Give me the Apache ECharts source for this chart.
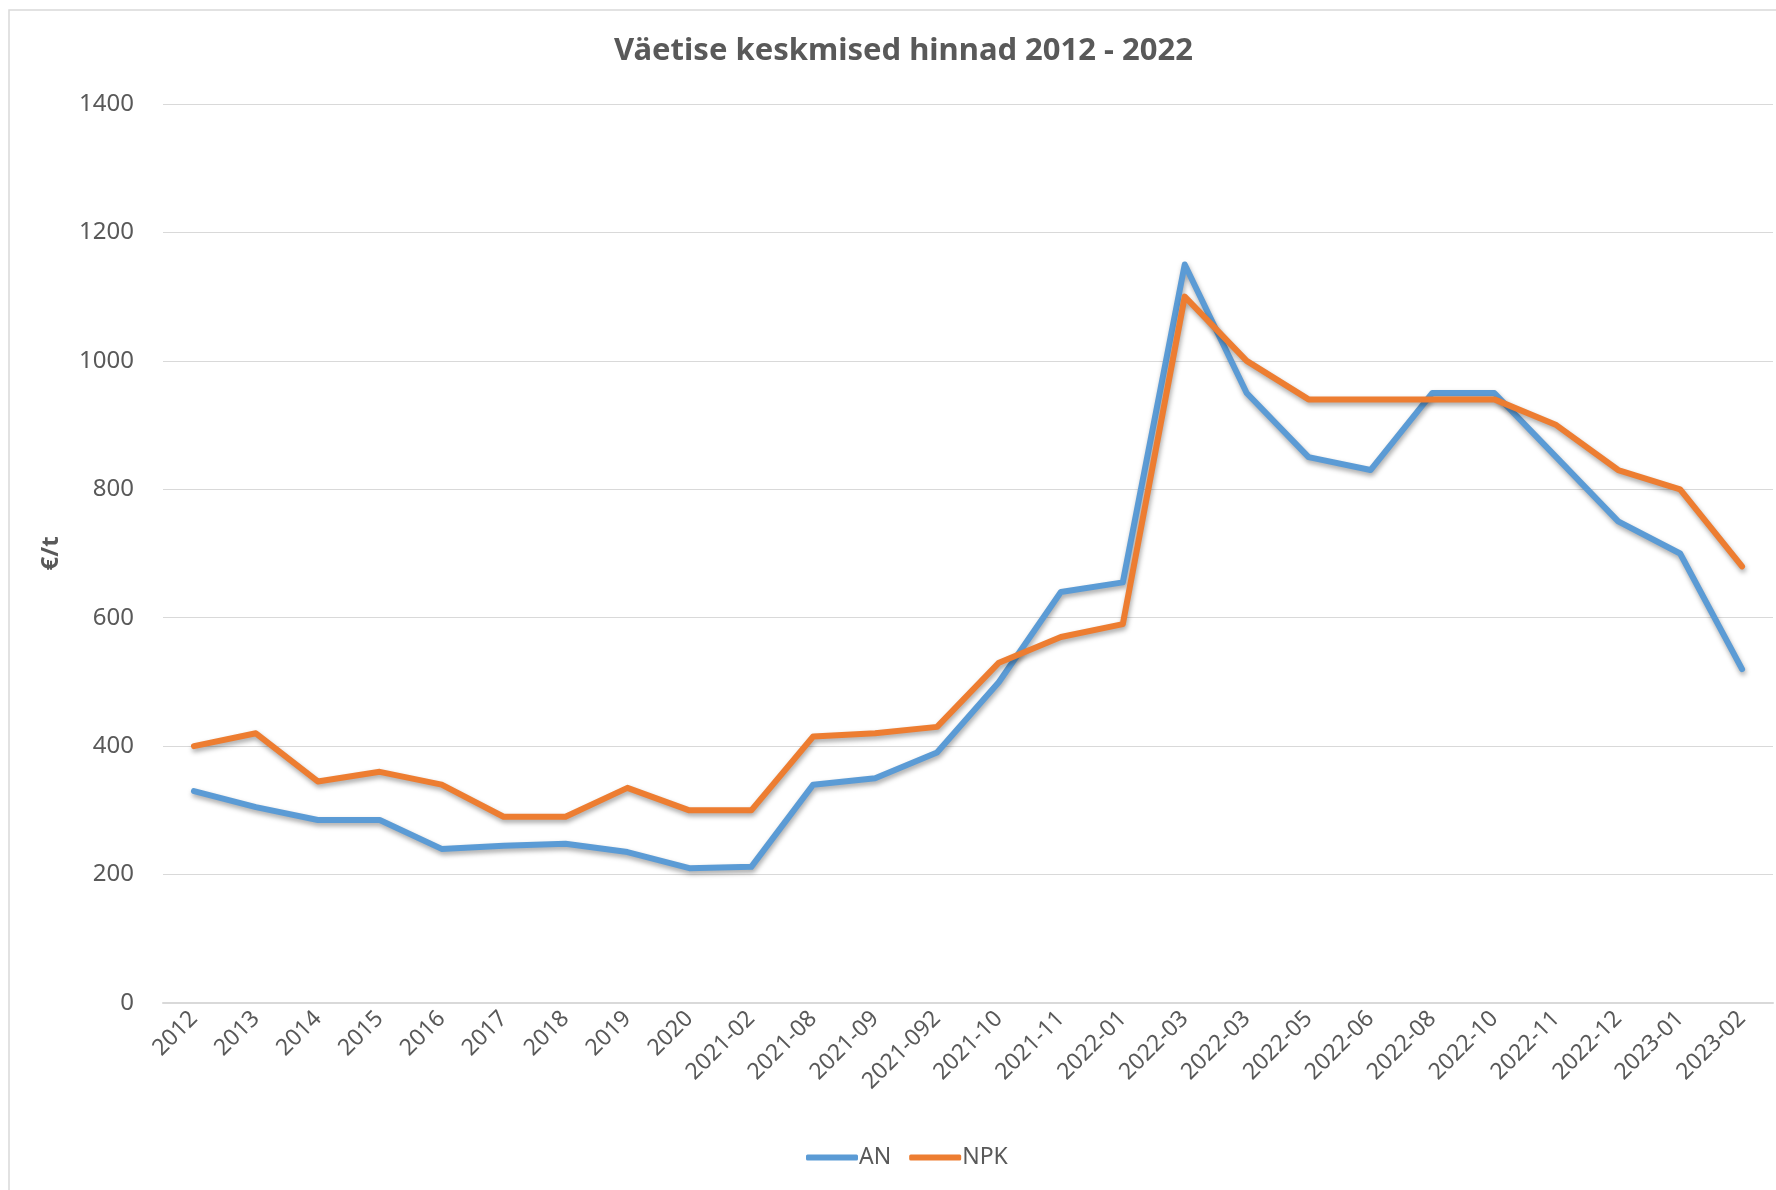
<!DOCTYPE html>
<html>
<head>
<meta charset="utf-8">
<script src="https://cdn.jsdelivr.net/npm/echarts@6/dist/echarts.min.js"></script>
<style>
html,body{margin:0;padding:0;background:#fff;}
#chart{width:1776px;height:1190px;}
</style>
</head>
<body>
<div id="chart"></div>
<script>
const categories = ["2012","2013","2014","2015","2016","2017","2018","2019","2020","2021-02","2021-08","2021-09","2021-092","2021-10","2021-11","2022-01","2022-03","2022-03","2022-05","2022-06","2022-08","2022-10","2022-11","2022-12","2023-01","2023-02"];
const anValues = [330,305,285,285,240,245,248,235,210,212,340,350,390,500,640,655,1150,950,850,830,950,950,850,750,700,520];
const npkValues = [400,420,345,360,340,290,290,335,300,300,415,420,430,530,570,590,1100,1000,940,940,940,940,900,830,800,680];
const yTicks = {min:0, max:1400, interval:200};

const chart = echarts.init(document.getElementById('chart'));
const FONT = '"Noto Sans", "Open Sans", sans-serif';
const lineShadow = {shadowColor:'rgba(0,0,0,0.35)', shadowBlur:5, shadowOffsetX:1, shadowOffsetY:3};
chart.setOption({
  backgroundColor:'#ffffff',
  animation:false,
  graphic:[{
    type:'rect', shape:{x:9, y:10, width:1800, height:1200},
    style:{fill:'none', stroke:'#D9D9D9', lineWidth:1.5}, silent:true, z:-1
  }],
  title:{
    text:'Väetise keskmised hinnad 2012 - 2022',
    left:609, top:31,
    textStyle:{fontFamily:FONT, fontSize:31, fontWeight:'bold', color:'#595959'}
  },
  legend:{
    bottom:16, left:801,
    itemWidth:52, itemHeight:6, itemGap:18,
    textStyle:{fontFamily:FONT, fontSize:23, color:'#595959', padding:[0,0,0,-4]},
    data:[
      {name:'AN', icon:'roundRect'},
      {name:'NPK', icon:'roundRect'}
    ]
  },
  grid:{left:163, right:3, top:104, bottom:187},
  xAxis:{
    type:'category', data:categories, boundaryGap:true,
    axisLine:{show:true, lineStyle:{color:'#D9D9D9', width:2}},
    axisTick:{show:false},
    axisLabel:{rotate:45, interval:0, fontFamily:FONT, fontSize:23, color:'#595959', margin:12}
  },
  yAxis:{
    type:'value', min:yTicks.min, max:yTicks.max, interval:yTicks.interval,
    name:'€/t', nameLocation:'middle', nameGap:100, nameRotate:90,
    nameTextStyle:{fontFamily:FONT, fontSize:24, fontWeight:'bold', color:'#595959'},
    axisLine:{show:false}, axisTick:{show:false},
    splitLine:{lineStyle:{color:'#D9D9D9', width:1.2}},
    axisLabel:{fontFamily:FONT, fontSize:24, color:'#595959', margin:29, formatter:function(v){return String(v);}}
  },
  series:[
    {name:'AN', type:'line', data:anValues, showSymbol:false, symbol:'none',
     color:'#5B9BD5',
     lineStyle:Object.assign({color:'#5B9BD5', width:6, cap:'round', join:'round'}, lineShadow)},
    {name:'NPK', type:'line', data:npkValues, showSymbol:false, symbol:'none',
     color:'#ED7D31',
     lineStyle:Object.assign({color:'#ED7D31', width:6, cap:'round', join:'round'}, lineShadow)}
  ]
});
</script>
</body>
</html>
